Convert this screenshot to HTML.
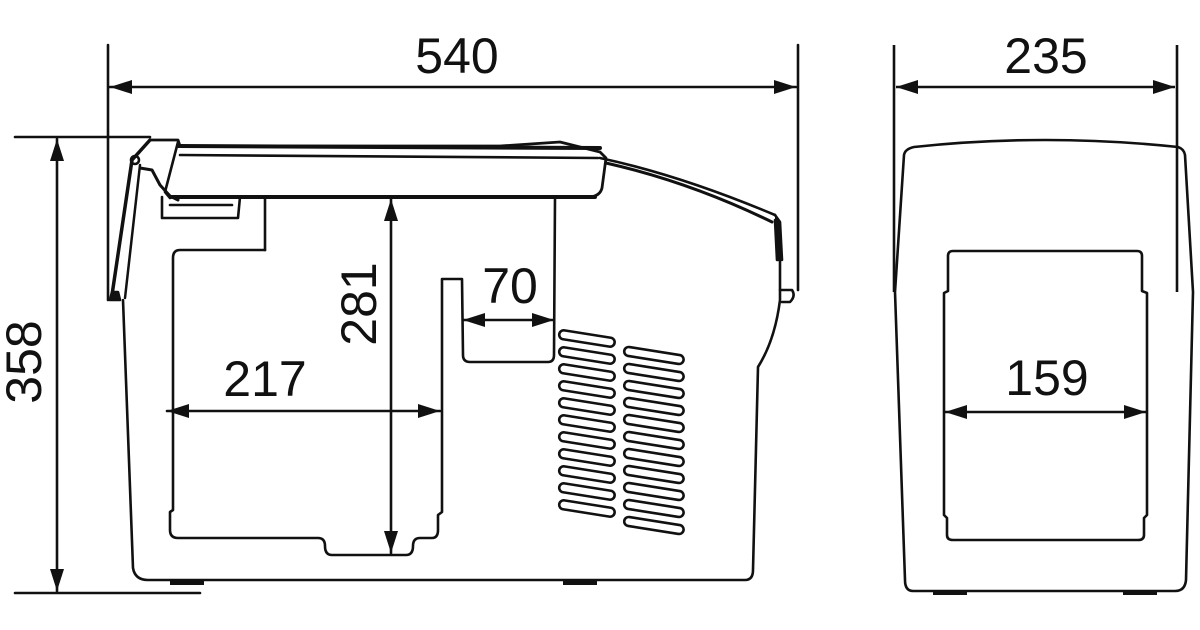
<!DOCTYPE html>
<html><head><meta charset="utf-8"><style>
html,body{margin:0;padding:0;background:#fff;}
svg{display:block;}
text{font-family:"Liberation Sans",Arial,sans-serif;font-size:50px;fill:#111;}
</style></head><body>
<svg width="1200" height="630" viewBox="0 0 1200 630" xmlns="http://www.w3.org/2000/svg">
<defs>
<marker id="a" viewBox="0 0 22 14" refX="22" refY="7" markerWidth="22" markerHeight="14" markerUnits="userSpaceOnUse" orient="auto-start-reverse"><path d="M0,0 L22,7 L0,14 Z" fill="#111"/></marker>
</defs>
<g fill="none" stroke="#111" stroke-width="2.6" stroke-linejoin="round" stroke-linecap="round">
<line x1="108" y1="45" x2="108" y2="300"/>
<line x1="798" y1="45" x2="798" y2="290"/>
<line x1="110" y1="87" x2="796" y2="87" marker-start="url(#a)" marker-end="url(#a)"/>
<line x1="15" y1="137" x2="150" y2="137"/>
<line x1="15" y1="593" x2="200" y2="593"/>
<line x1="57" y1="139" x2="57" y2="591" marker-start="url(#a)" marker-end="url(#a)"/>
<path d="M123,300 L133,568 Q135,580 148,580 L745,580 Q753,580 753,570 L758,367 Q775,340 780,300 L780,262"/>
<path d="M780,290 L792,290 Q796,296 790,302 L782,302"/>
<path d="M150,140 L178,140 L180,146 L500,146 L560,142 L600,152 L606,158 L602,188 Q600,196 590,197 L172,197" stroke-width="2.8"/>
<line x1="178" y1="146" x2="600" y2="148" stroke-width="4"/>
<line x1="180" y1="155" x2="598" y2="158"/>
<line x1="172" y1="197" x2="595" y2="197" stroke-width="4"/>
<path d="M178,142 L165,192 L170,198"/>
<path d="M600,158 Q680,175 775,215"/>
<path d="M606,163 Q690,182 772,222" stroke-width="3"/>
<path d="M775,215 L780,222 L782,260 L777,260 L775,220" fill="#111"/>
<path d="M150,140 L132,160 L112,295" stroke-width="3.5"/>
<path d="M140,165 L125,298" stroke-width="2.5"/>
<circle cx="135" cy="160" r="4"/>
<path d="M140,168 L152,170 L160,185 L170,196 L178,200" stroke-width="3"/>
<path d="M112,292 L118,292 L120,300 L110,300 Z" fill="#111"/>
<path d="M162,197 L162,218 L238,218 L240,197"/>
<path d="M170,205 L232,205"/>
<path d="M265,197 L265,250"/>
<path d="M265,250 L180,250 Q173,250 173,258 L173,510 L170,512 L170,530 Q170,538 178,538 L318,538 Q325,538 325,546 Q325,555 332,555 L406,555 Q413,555 413,546 Q413,538 420,538 L432,538 Q438,538 438,530 L438,515 L442,512 L442,279 L462,279 L463,355 Q463,362 470,362 L548,362 Q554,362 554,355 L555,197"/>
<line x1="391" y1="199" x2="391" y2="553" marker-start="url(#a)" marker-end="url(#a)"/>
<line x1="167" y1="411" x2="440" y2="411" marker-start="url(#a)" marker-end="url(#a)"/>
<line x1="463" y1="320" x2="554" y2="320" marker-start="url(#a)" marker-end="url(#a)"/>
</g>
<g fill="none" stroke="#111" stroke-width="2.6">
<rect x="559" y="334" width="56" height="9" rx="4.5" transform="rotate(9 587 338)"/>
<rect x="559" y="351" width="56" height="9" rx="4.5" transform="rotate(9 587 355)"/>
<rect x="559" y="368" width="56" height="9" rx="4.5" transform="rotate(9 587 372)"/>
<rect x="559" y="385" width="56" height="9" rx="4.5" transform="rotate(9 587 389)"/>
<rect x="559" y="402" width="56" height="9" rx="4.5" transform="rotate(9 587 406)"/>
<rect x="559" y="419" width="56" height="9" rx="4.5" transform="rotate(9 587 423)"/>
<rect x="559" y="436" width="56" height="9" rx="4.5" transform="rotate(9 587 440)"/>
<rect x="559" y="453" width="56" height="9" rx="4.5" transform="rotate(9 587 457)"/>
<rect x="559" y="470" width="56" height="9" rx="4.5" transform="rotate(9 587 474)"/>
<rect x="559" y="487" width="56" height="9" rx="4.5" transform="rotate(9 587 491)"/>
<rect x="559" y="504" width="56" height="9" rx="4.5" transform="rotate(9 587 508)"/>
<rect x="624" y="351" width="60" height="9" rx="4.5" transform="rotate(9 654 355)"/>
<rect x="624" y="368" width="60" height="9" rx="4.5" transform="rotate(9 654 372)"/>
<rect x="624" y="385" width="60" height="9" rx="4.5" transform="rotate(9 654 389)"/>
<rect x="624" y="402" width="60" height="9" rx="4.5" transform="rotate(9 654 406)"/>
<rect x="624" y="419" width="60" height="9" rx="4.5" transform="rotate(9 654 423)"/>
<rect x="624" y="436" width="60" height="9" rx="4.5" transform="rotate(9 654 440)"/>
<rect x="624" y="453" width="60" height="9" rx="4.5" transform="rotate(9 654 457)"/>
<rect x="624" y="470" width="60" height="9" rx="4.5" transform="rotate(9 654 474)"/>
<rect x="624" y="487" width="60" height="9" rx="4.5" transform="rotate(9 654 491)"/>
<rect x="624" y="504" width="60" height="9" rx="4.5" transform="rotate(9 654 508)"/>
<rect x="624" y="521" width="60" height="9" rx="4.5" transform="rotate(9 654 525)"/>
</g>
<rect x="170" y="580" width="34" height="5" fill="#111"/>
<rect x="563" y="580" width="34" height="5" fill="#111"/>
<g fill="none" stroke="#111" stroke-width="2.6" stroke-linejoin="round">
<line x1="894" y1="45" x2="894" y2="292"/>
<line x1="1177" y1="45" x2="1177" y2="292"/>
<line x1="896" y1="87" x2="1175" y2="87" marker-start="url(#a)" marker-end="url(#a)"/>
<path d="M914,147 Q1045,133 1178,147 Q1184,149 1185,155 L1193,292 L1186,580 Q1185,591 1175,591 L913,591 Q905,591 905,580 L895,292 L904,155 Q905,149 914,147 Z"/>
<path d="M953,251 L1137,251 Q1142,251 1142,256 L1142,291 L1147,293 L1147,515 L1144,518 L1144,535 Q1144,540 1138,540 L953,540 Q947,540 947,535 L947,518 L944,515 L944,293 L948,291 L948,256 Q948,251 953,251 Z"/>
<line x1="945" y1="412" x2="1146" y2="412" marker-start="url(#a)" marker-end="url(#a)"/>
</g>
<rect x="933" y="591" width="34" height="4" fill="#111"/>
<rect x="1123" y="591" width="34" height="4" fill="#111"/>
<text x="457" y="73" text-anchor="middle">540</text>
<text x="1046" y="73" text-anchor="middle">235</text>
<text x="265" y="396" text-anchor="middle">217</text>
<text x="510" y="303" text-anchor="middle">70</text>
<text x="1047" y="395" text-anchor="middle">159</text>
<text transform="translate(376,304) rotate(-90)" text-anchor="middle">281</text>
<text transform="translate(41,362) rotate(-90)" text-anchor="middle">358</text>
</svg>
</body></html>
